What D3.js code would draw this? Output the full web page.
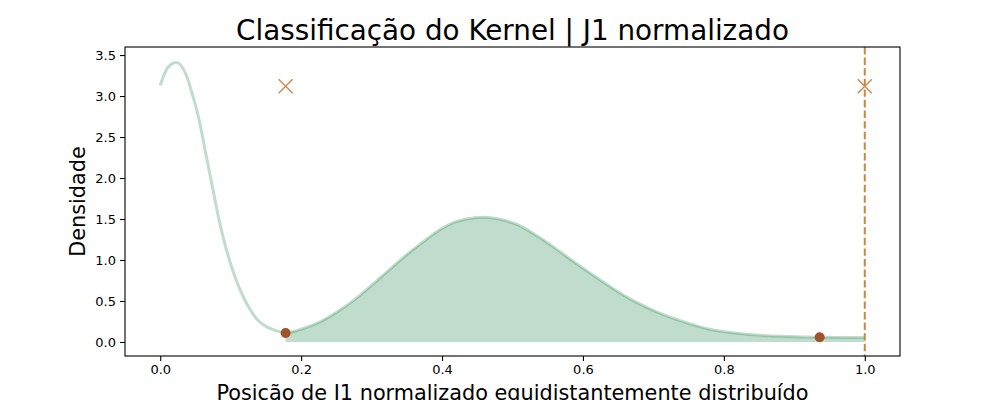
<!DOCTYPE html>
<html>
<head>
<meta charset="utf-8">
<script src="https://cdn.jsdelivr.net/npm/d3@7"></script>
<style>
  html, body { margin: 0; padding: 0; background: #fff; }
  text { font-family: "DejaVu Sans", sans-serif; fill: #000; }
</style>
</head>
<body>
<svg id="chart" width="1000" height="400"></svg>
<script>
// ---- data ----
const kdeX = [0, 0.011, 0.0227, 0.0368, 0.046, 0.0557, 0.065, 0.0746, 0.084, 0.0935, 0.105, 0.119, 0.128, 0.138, 0.15, 0.162, 0.178,
              0.2, 0.228, 0.25, 0.275, 0.3, 0.3225, 0.345, 0.37, 0.39, 0.412, 0.435, 0.459, 0.485, 0.507, 0.53, 0.558, 0.585, 0.61,
              0.643, 0.67, 0.691, 0.715, 0.738, 0.76, 0.785, 0.81, 0.832, 0.855, 0.88, 0.91, 0.936, 0.97, 1.0];
const kdeY = [3.13, 3.35, 3.41, 3.26, 3.01, 2.69, 2.28, 1.87, 1.47, 1.14, 0.82, 0.53, 0.39, 0.27, 0.19, 0.146, 0.11,
              0.155, 0.25, 0.36, 0.51, 0.69, 0.86, 1.03, 1.20, 1.33, 1.44, 1.50, 1.52, 1.49, 1.43, 1.32, 1.16, 0.99, 0.84,
              0.65, 0.51, 0.42, 0.33, 0.26, 0.20, 0.146, 0.115, 0.094, 0.08, 0.069, 0.062, 0.057, 0.056, 0.056];
const fillStart = 0.178;
const dotX = [0.178, 0.936];
const dotY = [0.11, 0.057];
const crossX = [0.178, 1.0];
const crossY = [3.12, 3.12];
const vlineX = [1.0];
const xTicks = [0.0, 0.2, 0.4, 0.6, 0.8, 1.0];
const yTicks = [0.0, 0.5, 1.0, 1.5, 2.0, 2.5, 3.0, 3.5];
const titleText = "Classificação do Kernel | J1 normalizado";
const xLabelText = "Posição de J1 normalizado equidistantemente distribuído";
const yLabelText = "Densidade";

// ---- layout ----
const svg = d3.select("#chart");
const L = 125, R = 900, T = 47, B = 356;
const x = d3.scaleLinear().domain([-0.05, 1.05]).range([L, R]);
const y = d3.scaleLinear().domain([-0.171, 3.598]).range([B, T]);

const pts = kdeX.map((v, i) => ({x: v, y: kdeY[i]}));
const fillPts = pts.filter(p => p.x >= fillStart - 1e-9);

const seagreen = "#2e8b57";
const curve = d3.curveMonotoneX;

// fill
const area = d3.area().x(d => x(d.x)).y0(y(0)).y1(d => y(d.y)).curve(curve);
svg.append("path").datum(fillPts).attr("d", area)
  .attr("fill", seagreen).attr("fill-opacity", 0.3).attr("stroke", "none");

// kde line
const line = d3.line().x(d => x(d.x)).y(d => y(d.y)).curve(curve);
svg.append("path").datum(pts).attr("d", line)
  .attr("fill", "none").attr("stroke", seagreen).attr("stroke-opacity", 0.3)
  .attr("stroke-width", 3).attr("stroke-linecap", "butt").attr("stroke-linejoin", "round");

// vertical dashed line
svg.selectAll("line.vl").data(vlineX).enter().append("line").attr("class", "vl")
  .attr("x1", d => x(d)).attr("x2", d => x(d)).attr("y1", T).attr("y2", B)
  .attr("stroke", "#cd853f").attr("stroke-width", 2).attr("stroke-dasharray", "7.4,3.2");

// dots
svg.selectAll("circle.dot").data(dotX.map((v, i) => ({x: v, y: dotY[i]}))).enter()
  .append("circle").attr("class", "dot")
  .attr("cx", d => x(d.x)).attr("cy", d => y(d.y)).attr("r", 5)
  .attr("fill", "#a0522d");

// crosses
const cs = 7;
const crosses = svg.selectAll("g.cross").data(crossX.map((v, i) => ({x: v, y: crossY[i]}))).enter()
  .append("g").attr("class", "cross")
  .attr("transform", d => `translate(${x(d.x)},${y(d.y)})`);
crosses.append("path").attr("d", `M${-cs},${-cs}L${cs},${cs}M${-cs},${cs}L${cs},${-cs}`)
  .attr("stroke", "#d2874a").attr("stroke-width", 1.4).attr("fill", "none");

// frame
svg.append("rect").attr("x", L).attr("y", T).attr("width", R - L).attr("height", B - T)
  .attr("fill", "none").attr("stroke", "#000").attr("stroke-width", 1.1);

// axes
const xAxis = d3.axisBottom(x).tickValues(xTicks).tickFormat(d3.format(".1f")).tickSize(5).tickPadding(4);
const gx = svg.append("g").attr("transform", `translate(0,${B})`).call(xAxis);
const yAxis = d3.axisLeft(y).tickValues(yTicks).tickFormat(d3.format(".1f")).tickSize(5).tickPadding(4);
const gy = svg.append("g").attr("transform", `translate(${L},0)`).call(yAxis);
[gx, gy].forEach(g => {
  g.select(".domain").remove();
  g.selectAll(".tick line").attr("stroke", "#000").attr("stroke-width", 1.1);
  g.selectAll(".tick text").attr("font-family", "DejaVu Sans").attr("font-size", 13).attr("fill", "#000");
});

// labels
svg.append("text").attr("x", (L + R) / 2).attr("y", 40).attr("text-anchor", "middle")
  .attr("font-size", 27.8).text(titleText);
svg.append("text").attr("x", (L + R) / 2).attr("y", 400).attr("text-anchor", "middle")
  .attr("font-size", 20.8).text(xLabelText);
svg.append("text").attr("transform", `translate(85,${(T + B) / 2}) rotate(-90)`)
  .attr("text-anchor", "middle").attr("font-size", 20.8).text(yLabelText);
</script>
</body>
</html>
